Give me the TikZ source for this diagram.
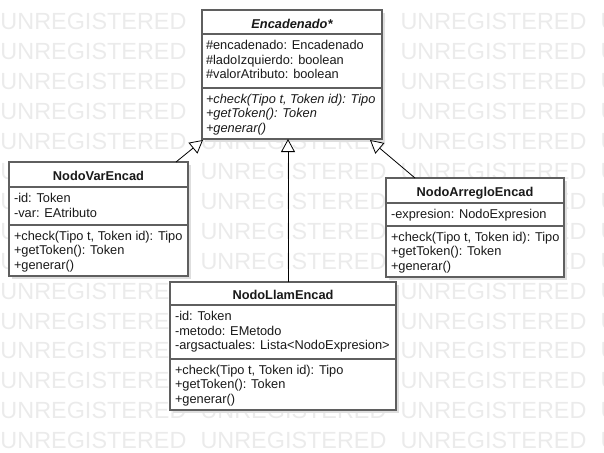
\documentclass[tikz,border=0pt]{standalone}
\usepackage{fontspec}
\setmainfont{Liberation Sans}
\usetikzlibrary{arrows.meta}
\definecolor{wmgray}{RGB}{235,235,235}
\definecolor{shadowgray}{RGB}{222,222,222}
\definecolor{boxgray}{RGB}{95,95,95}
\definecolor{txtcol}{RGB}{25,25,25}
\tikzset{
  umlbox/.style={draw=boxgray, line width=1.5pt, fill=white, rectangle, inner sep=0pt, outer sep=0pt, anchor=north west},
  umlshadow/.style={fill=shadowgray, draw=none, rectangle, inner sep=0pt, outer sep=0pt, anchor=north west},
  sepline/.style={draw=boxgray, line width=1.5pt},
  txt/.style={inner sep=0pt, outer sep=0pt, anchor=base west, text=txtcol, font=\fontsize{12.8}{14.6}\selectfont},
  ttl/.style={txt, anchor=base, font=\fontsize{12.8}{14.6}\selectfont\bfseries},
  wm/.style={inner sep=0pt, outer sep=0pt, anchor=base west, text=wmgray, font=\fontsize{23.4}{24}\selectfont},
  inh/.style={draw=black, line width=0.8pt, -{Triangle[length=13pt,width=14pt,fill=white]}}
}
\begin{document}
\begin{tikzpicture}[x=1pt,y=-1pt]
\useasboundingbox (0,0) rectangle (604,452);
% watermark
\foreach \k in {0,...,14}{
  \foreach \i in {0,...,3}{
    \node[wm] (wm-\i-\k) at ({0.5+200*\i},{30+29.9*\k}) {UNREGISTERED};
  }
}
% shadows
\node[umlshadow, minimum width=180pt, minimum height=129pt] (encs) at (205,13) {};
\node[umlshadow, minimum width=179pt, minimum height=114pt] (vars) at (12,165) {};
\node[umlshadow, minimum width=178pt, minimum height=99pt] (arrs) at (389,181) {};
\node[umlshadow, minimum width=226pt, minimum height=128pt] (llams) at (173,285) {};
% boxes
\node[umlbox, minimum width=180pt, minimum height=129pt] (enc) at (202,10) {};
\node[umlbox, minimum width=179pt, minimum height=114pt] (var) at (9,162) {};
\node[umlbox, minimum width=178pt, minimum height=99pt] (arr) at (386,178) {};
\node[umlbox, minimum width=226pt, minimum height=128pt] (llam) at (170,282) {};
% separators
\draw[sepline] (202,34) -- (382,34);
\draw[sepline] (202,88) -- (382,88);
\draw[sepline] (9,187) -- (188,187);
\draw[sepline] (9,225) -- (188,225);
\draw[sepline] (386,203) -- (564,203);
\draw[sepline] (386,226) -- (564,226);
\draw[sepline] (170,305) -- (396,305);
\draw[sepline] (170,359) -- (396,359);
% Encadenado
\node[ttl] (enc-t) at (292,28.2) {\itshape Encadenado*};
\node[txt] (enc-a1) at (206,49.5) {\#encadenado: Encadenado};
\node[txt] (enc-a2) at (206,64) {\#ladoIzquierdo: boolean};
\node[txt] (enc-a3) at (206,78.5) {\#valorAtributo: boolean};
\node[txt] (enc-m1) at (206,103) {\itshape +check(Tipo t, Token id): Tipo};
\node[txt] (enc-m2) at (206,117.5) {\itshape +getToken(): Token};
\node[txt] (enc-m3) at (206,132) {\itshape +generar()};
% NodoVarEncad
\node[ttl] (var-t) at (98.5,180.5) {NodoVarEncad};
\node[txt] (var-a1) at (14,202.5) {-id: Token};
\node[txt] (var-a2) at (14,217) {-var: EAtributo};
\node[txt] (var-m1) at (14,240) {+check(Tipo t, Token id): Tipo};
\node[txt] (var-m2) at (14,254.5) {+getToken(): Token};
\node[txt] (var-m3) at (14,269) {+generar()};
% NodoArregloEncad
\node[ttl] (arr-t) at (475,196.5) {NodoArregloEncad};
\node[txt] (arr-a1) at (391,218.5) {-expresion: NodoExpresion};
\node[txt] (arr-m1) at (391,241) {+check(Tipo t, Token id): Tipo};
\node[txt] (arr-m2) at (391,255.5) {+getToken(): Token};
\node[txt] (arr-m3) at (391,270) {+generar()};
% NodoLlamEncad
\node[ttl] (llam-t) at (283,299.5) {NodoLlamEncad};
\node[txt] (llam-a1) at (175,320.5) {-id: Token};
\node[txt] (llam-a2) at (175,335) {-metodo: EMetodo};
\node[txt] (llam-a3) at (175,349.5) {-argsactuales: Lista<NodoExpresion>};
\node[txt] (llam-m1) at (175,374) {+check(Tipo t, Token id): Tipo};
\node[txt] (llam-m2) at (175,388.5) {+getToken(): Token};
\node[txt] (llam-m3) at (175,403) {+generar()};
% inheritance
\draw[inh] ([xshift=-12pt]var.north east) -- ([xshift=1pt,yshift=-1pt]enc.south west);
\draw[inh] ([xshift=5pt]llam.north) -- ([xshift=-4pt]enc.south);
\draw[inh] ([xshift=29pt]arr.north west) -- ([xshift=-12pt,yshift=-1pt]enc.south east);
\end{tikzpicture}
\end{document}
